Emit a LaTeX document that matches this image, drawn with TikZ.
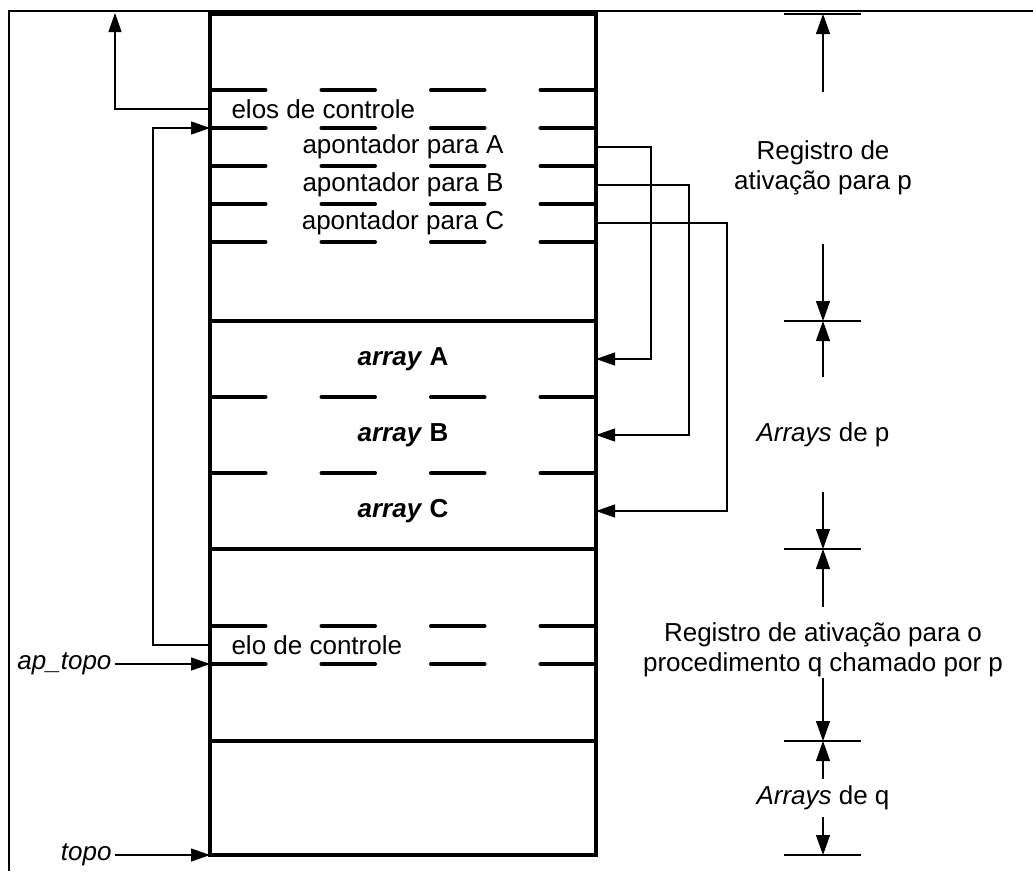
\documentclass[tikz,border=0pt]{standalone}
\usepackage{fontspec}
\setmainfont{Liberation Sans}
\usetikzlibrary{
    arrows.meta,
    positioning,
}

\begin{document}
\begin{tikzpicture}[x=1pt, y=-1pt,
        font=\fontsize{26}{30}\selectfont,
        wall/.style={line width=3.3pt},
        slot/.style={minimum width=386pt, minimum height=38pt, inner sep=0pt, outer sep=0pt},
        cell/.style={slot, minimum height=76pt},
        sep/.style={line width=3.5pt, line cap=round, dash pattern=on 54pt off 55.5pt},
        link/.style={line width=1.2pt, -{Triangle[length=19pt, width=13pt]}},
        dim/.style={line width=1.2pt, -{Triangle[length=20pt, width=14pt]}},
        tick/.style={line width=1.2pt},
        lbl/.style={align=center, inner sep=0pt}]
        \useasboundingbox (0,0) rectangle (1033,871);
        \draw[line width=2pt] (9,871) -- (9,11) -- (1033,11);
        \node[draw, wall, outer sep=0pt, minimum width=386pt, minimum height=841pt] (stack) at (403,434.5) {};
        \node[slot] (elosP) at (403,109) {};
        \node[slot, below=0pt of elosP] (pA) {apontador para A};
        \node[slot, below=0pt of pA] (pB) {apontador para B};
        \node[slot, below=0pt of pB] (pC) {apontador para C};
        \node[right=18pt of elosP.west] (elosLbl) {elos de controle};
        \node[cell] (arrA) at (403,359) {\textbf{\textit{array} A}};
        \node[cell, below=0pt of arrA] (arrB) {\textbf{\textit{array} B}};
        \node[cell, below=0pt of arrB] (arrC) {\textbf{\textit{array} C}};
        \node[slot] (eloQ) at (403,645) {};
        \node[right=18pt of eloQ.west] (eloLbl) {elo de controle};
        \draw[sep] ([xshift=1.75pt]elosP.north west) -- (elosP.north east);
        \foreach \n in {elosP,pA,pB,pC,arrA,arrB}
            \draw[sep] ([xshift=1.75pt]\n.south west) -- (\n.south east);
        \draw[sep] ([xshift=1.75pt]eloQ.north west) -- (eloQ.north east);
        \draw[sep] ([xshift=1.75pt]eloQ.south west) -- (eloQ.south east);
        \draw[wall] (arrA.north west) -- (arrA.north east);
        \draw[wall] (arrC.south west) -- (arrC.south east);
        \draw[wall] (stack.west |- 0,741) -- (stack.east |- 0,741);
        \draw[link] (pA.east) -- ++(55,0) |- (arrA.east);
        \draw[link] (pB.east) -- ++(93,0) |- (arrB.east);
        \draw[link] (pC.east) -- ++(131,0) |- (arrC.east);
        \coordinate (up) at (115,13);
        \draw[link] (elosP.west) -| (up);
        \draw[link] (eloQ.west) -- ++(-57,0) |- (elosP.south west);
        \node[anchor=east] (apTopo) at (115,664) {\textit{ap\_topo}};
        \node[anchor=east] (topo) at (115,855) {\textit{topo}};
        \draw[link] (apTopo.east) -- (eloQ.south west);
        \draw[link] (topo.east) -- (stack.south west);
        \foreach \n/\y in {d0/14,d1/321,d2/549,d3/741,d4/855} {
            \coordinate (\n) at (823,\y);
            \draw[tick] ([xshift=-39pt]\n) -- ([xshift=38pt]\n);
        }
        \node[lbl, minimum height=152pt] (regP) at (823,168) {Registro de\\ativação para p};
        \node[lbl, minimum height=115pt] (arrsP) at (823,434.5) {\textit{Arrays} de p};
        \node[lbl, minimum height=56pt] (regQ) at (823,650) {Registro de ativação para o\\procedimento q chamado por p};
        \node[lbl, minimum height=38pt] (arrsQ) at (823,798) {\textit{Arrays} de q};
        \draw[dim] (regP.north) -- (d0);
        \draw[dim] (regP.south) -- (d1);
        \draw[dim] (arrsP.north) -- (d1);
        \draw[dim] (arrsP.south) -- (d2);
        \draw[dim] ([yshift=15pt]regQ.north) -- (d2);
        \draw[dim] (regQ.south) -- (d3);
        \draw[dim] (arrsQ.north) -- (d3);
        \draw[dim] (arrsQ.south) -- (d4);
    \end{tikzpicture}
\end{document}
